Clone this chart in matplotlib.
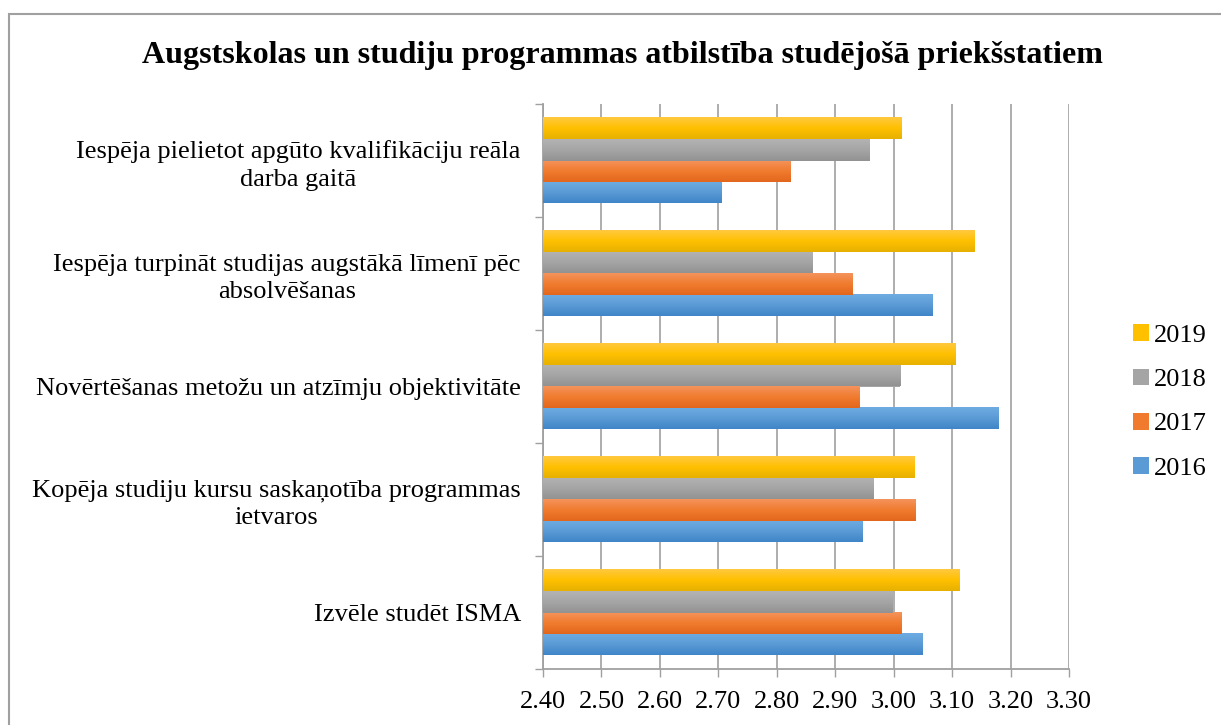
import matplotlib
matplotlib.use("Agg")
import matplotlib.pyplot as plt
import numpy as np
from matplotlib.colors import LinearSegmentedColormap
from matplotlib.patches import Patch, Rectangle

plt.rcParams["font.family"] = ["Liberation Serif", "DejaVu Serif"]

title = "Augstskolas un studiju programmas atbilstība studējošā priekšstatiem"
categories = [
    "Izvēle studēt ISMA",
    "Kopēja studiju kursu saskaņotība programmas\nietvaros",
    "Novērtēšanas metožu un atzīmju objektivitāte",
    "Iespēja turpināt studijas augstākā līmenī pēc\nabsolvēšanas",
    "Iespēja pielietot apgūto kvalifikāciju reāla\ndarba gaitā",
]
years = ["2016", "2017", "2018", "2019"]
v2016 = [3.050, 2.946, 3.180, 3.066, 2.706]
v2017 = [3.013, 3.037, 2.941, 2.929, 2.823]
v2018 = [2.998, 2.965, 3.011, 2.861, 2.958]
v2019 = [3.113, 3.035, 3.105, 3.139, 3.013]
values = [v2016, v2017, v2018, v2019]
xticks = [2.40, 2.50, 2.60, 2.70, 2.80, 2.90, 3.00, 3.10, 3.20, 3.30]

# base colour plus light top / dark bottom for the Excel-like gradient
colors = {
    "2016": ("#6EABE2", "#5B9BD5", "#3F85C8"),
    "2017": ("#F4935C", "#F07B2E", "#E2671C"),
    "2018": ("#B3B3B3", "#A5A5A5", "#929292"),
    "2019": ("#FFC93F", "#FFC000", "#E6B100"),
}

fig = plt.figure(figsize=(12.21, 7.25), dpi=100)
ax = fig.add_axes([543 / 1221, 1 - 669 / 725, (1069 - 543) / 1221, (669 - 104) / 725])

grey = "#A0A0A0"
h = 0.19
y = np.arange(len(categories))
for i, yr in enumerate(years):
    light, base, dark = colors[yr]
    cmap = LinearSegmentedColormap.from_list(yr, [dark, base, light])
    bars = ax.barh(y + (i - 1.5) * h, np.array(values[i]) - xticks[0], left=xticks[0],
                   height=h, color=base, zorder=3)
    for b in bars:
        x0, y0, w, hh = b.get_x(), b.get_y(), b.get_width(), b.get_height()
        ax.imshow(np.linspace(0, 1, 64).reshape(-1, 1), cmap=cmap, aspect="auto",
                  extent=(x0, x0 + w, y0, y0 + hh), origin="lower", zorder=3.5)

ax.set_xlim(xticks[0], xticks[-1])
ax.set_ylim(-0.5, len(categories) - 0.5)
ax.set_xticks(xticks)
ax.set_xticklabels([f"{t:.2f}" for t in xticks], fontsize=19)
ax.set_yticks(y)
ax.set_yticklabels(categories, fontsize=19, multialignment="center", linespacing=1.3)
ax.set_yticks(np.arange(-0.5, len(categories)), minor=True)
ax.tick_params(axis="y", which="major", length=0, pad=16)
ax.tick_params(axis="y", which="minor", length=5.5, width=1, color=grey)
ax.tick_params(axis="x", length=5.5, width=1, color=grey, pad=10)
ax.grid(axis="x", color=grey, linewidth=1.2, zorder=0)
for s in ["top", "right"]:
    ax.spines[s].set_visible(False)
for s in ["left", "bottom"]:
    ax.spines[s].set_color(grey)
    ax.spines[s].set_linewidth(1.3)

fig.text(622 / 1221, 1 - 56 / 725, title, fontsize=23, fontweight="bold",
         ha="center", va="center")

handles = [Patch(facecolor=colors[yr][1], label=yr) for yr in reversed(years)]
fig.legend(handles=handles, loc="center left", bbox_to_anchor=(1133 / 1221, 1 - 402 / 725),
           frameon=False, fontsize=19, handlelength=0.6, handleheight=0.6,
           handletextpad=0.2, labelspacing=0.82, borderpad=0, borderaxespad=0)

fig.patches.append(Rectangle((9 / 1221, -0.05), 1.2, 1 - 14 / 725 + 0.05,
                             transform=fig.transFigure, fill=False,
                             edgecolor=grey, linewidth=1.5))

fig.savefig("out.png", dpi=100)
